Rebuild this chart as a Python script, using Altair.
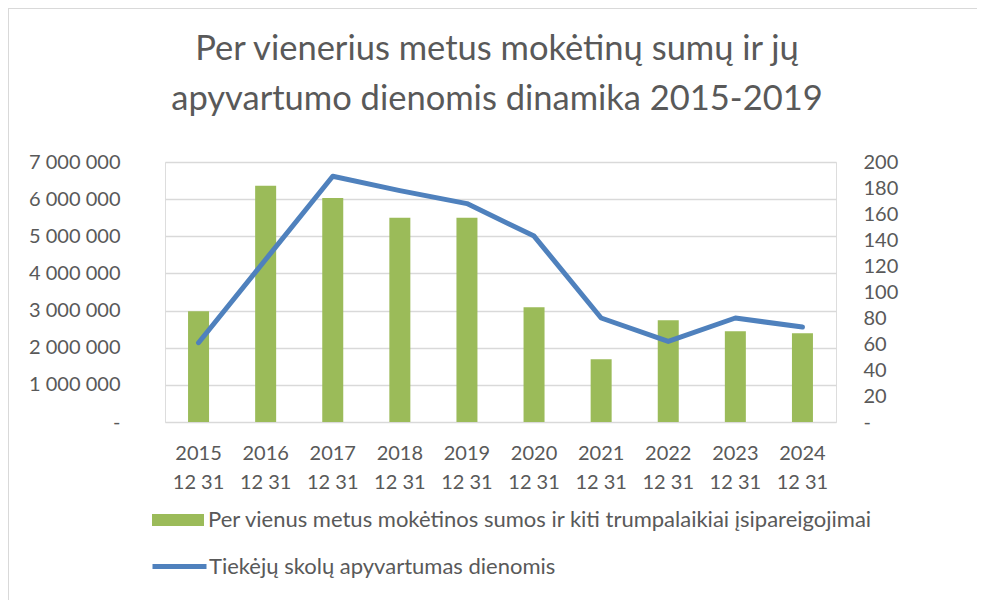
import altair as alt
import pandas as pd

# ---- data ----
dates = ["2015 12 31", "2016 12 31", "2017 12 31", "2018 12 31", "2019 12 31",
         "2020 12 31", "2021 12 31", "2022 12 31", "2023 12 31", "2024 12 31"]
payables = [2980000, 6360000, 6030000, 5500000, 5500000,
            3090000, 1690000, 2740000, 2440000, 2390000]
turnover_days = [61, 125, 189, 178, 168, 143, 80, 62, 80, 73]

bar_name = "Per vienus metus mokėtinos sumos ir kiti trumpalaikiai įsipareigojimai"
line_name = "Tiekėjų skolų apyvartumas dienomis"
title_lines = ["Per vienerius metus mokėtinų sumų ir jų",
               "apyvartumo dienomis dinamika 2015-2019"]
left_ticks = [0, 1000000, 2000000, 3000000, 4000000, 5000000, 6000000, 7000000]
right_ticks = [0, 20, 40, 60, 80, 100, 120, 140, 160, 180, 200]

df = pd.DataFrame({
    "date": dates,
    "payables": payables,
    "days": turnover_days,
    "sbar": [bar_name] * len(dates),
    "sline": [line_name] * len(dates),
})
title_df = pd.DataFrame({"text": title_lines, "row": [0, 1]})

FONT = "Lato"
GREY = "#595959"
GRID = "#d9d9d9"
W, H = 671, 260
PAD_L, PAD_T = 157, 154

x_enc = alt.X("date:N", sort=dates, title=None,
              scale=alt.Scale(paddingInner=0, paddingOuter=0),
              axis=alt.Axis(labelExpr="[substring(datum.label,0,4), substring(datum.label,5)]",
                            labelAngle=0, ticks=False, domain=False, labelPadding=21,
                            labelLineHeight=29, labelFontSize=20, labelColor=GREY,
                            labelFont=FONT))

bars = alt.Chart(df).mark_bar(size=21).encode(
    x=x_enc,
    y=alt.Y("payables:Q", title=None,
            scale=alt.Scale(domain=[0, 7000000], nice=False),
            axis=alt.Axis(orient="left", values=left_ticks, ticks=False, domain=False,
                          grid=True, gridColor=GRID, gridWidth=1.5,
                          labelPadding=45, labelFontSize=20, labelColor=GREY, labelFont=FONT,
                          labelExpr="datum.value == 0 ? '-\u00a0\u00a0\u00a0' : replace(format(datum.value, ','), regexp(',', 'g'), '\u00a0')")),
    fill=alt.Fill("sbar:N", scale=alt.Scale(range=["#9bbb59"]),
                  legend=alt.Legend(title=None, orient="none", legendX=-13, legendY=332,
                                    symbolType="M-1,-0.23H1V0.23H-1Z", symbolSize=2704,
                                    symbolStrokeWidth=0, labelFontSize=22, labelColor=GREY,
                                    labelFont=FONT, labelLimit=1000, labelOffset=4, padding=0)),
)

line = alt.Chart(df).mark_line(strokeWidth=5, strokeCap="round", strokeJoin="round").encode(
    x=alt.X("date:N", sort=dates),
    y=alt.Y("days:Q", title=None,
            scale=alt.Scale(domain=[0, 200], nice=False),
            axis=alt.Axis(orient="right", values=right_ticks, ticks=False, domain=False,
                          grid=False, labelPadding=27, labelFontSize=20, labelColor=GREY,
                          labelFont=FONT,
                          labelExpr="datum.value == 0 ? '-' : format(datum.value, 'd')")),
    stroke=alt.Stroke("sline:N", scale=alt.Scale(range=["#4f81bd"]),
                      legend=alt.Legend(title=None, orient="none", legendX=-15, legendY=375,
                                        symbolType="stroke", symbolSize=2916,
                                        symbolStrokeWidth=5, labelFontSize=22, labelColor=GREY,
                                        labelFont=FONT, labelLimit=1000, labelOffset=0, padding=0)),
)

title = alt.Chart(title_df).mark_text(font=FONT, fontSize=34.5, color=GREY,
                                      align="center", baseline="middle").encode(
    text="text:N",
    x=alt.value(332),
    y=alt.Y("row:Q", scale=alt.Scale(domain=[0, 1], range=[-112, -62]), axis=None),
)

frame_left = alt.Chart(df).mark_rule(color=GRID, strokeWidth=1.5).encode(
    x=alt.value(-157), y=alt.value(-154), y2=alt.value(446))
frame_top = alt.Chart(df).mark_rule(color=GRID, strokeWidth=1.5).encode(
    y=alt.value(-154), x=alt.value(-157), x2=alt.value(830))

chart = alt.layer(bars, line, title, frame_left, frame_top).resolve_scale(
    y="independent", fill="independent", stroke="independent"
).properties(
    width=W, height=H,
    autosize=alt.AutoSizeParams(type="none"),
    padding={"left": PAD_L, "top": PAD_T, "right": 141, "bottom": 438 - H},
).configure_view(stroke=None).configure(background="white")

chart.save("out.html", embed_options={"renderer": "svg", "actions": False})
